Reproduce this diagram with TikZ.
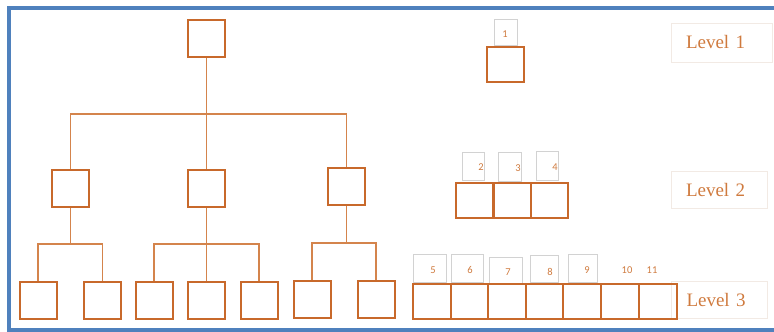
\documentclass[tikz,border=0pt]{standalone}
\usepackage{fontspec}
\setmainfont{Liberation Serif}
\newfontfamily\numfont{Carlito}
\definecolor{frameblue}{HTML}{4F81BD}
\definecolor{boxor}{HTML}{C8692B}
\definecolor{lineor}{HTML}{D4844C}
\definecolor{txtor}{HTML}{CF7A3E}
\definecolor{lblgray}{HTML}{D2D2D2}
\definecolor{lvlframe}{HTML}{F2EAE4}
\begin{document}
\begin{tikzpicture}[x=1pt,y=-1pt,
  sq/.style={draw=boxor,line width=2pt,minimum width=37pt,minimum height=37pt,inner sep=0pt,fill=white},
  rowsq/.style={draw=boxor,line width=2pt,minimum width=37.6pt,minimum height=35pt,inner sep=0pt},
  conn/.style={draw=lineor,line width=1.5pt},
  numbox/.style={draw=lblgray,line width=0.7pt,inner sep=0pt,minimum width=#1,minimum height=27pt},
  numtxt/.style={text=txtor,font=\numfont\fontsize{10.5}{12}\selectfont,inner sep=0pt},
  lvlbox/.style={draw=lvlframe,line width=1pt,inner xsep=15pt,inner ysep=0pt,text width=66pt,align=left,minimum height=37pt,text=txtor,font=\fontsize{19}{20}\selectfont}
]
\useasboundingbox (0,0) rectangle (774,332);
% frame
\draw[frameblue,line width=4pt] (9,332) -- (9,8) -- (774,8);
\draw[frameblue,line width=4pt] (7,330) -- (774,330);

% tree
\node[sq] (t0) at (206.5,38) {};
\node[sq] (a) at (70.5,188) {};
\node[sq] (b) at (206.5,188) {};
\node[sq] (c) at (346.5,186) {};
\coordinate (bus1) at (0,114);
\draw[conn] (t0.south) -- (b.north);
\draw[conn] (a.north) |- (bus1 -| c.north) -- (c.north);

\node[sq] (a1) at (38,300.5) {};
\node[sq] (a2) at (102.5,300.5) {};
\node[sq] (b1) at (154,300.5) {};
\node[sq] (b2) at (206.5,300.5) {};
\node[sq] (b3) at (259,300.5) {};
\node[sq] (c1) at (312,299) {};
\node[sq] (c2) at (376,299) {};
\coordinate (bus2) at (0,244);
\coordinate (bus3) at (0,243);
\draw[conn] (a.south) -- (a.south |- bus2);
\draw[conn] (a1.north) |- (bus2 -| a2.north) -- (a2.north);
\draw[conn] (b.south) -- (b2.north);
\draw[conn] (b1.north) |- (bus2 -| b3.north) -- (b3.north);
\draw[conn] (c.south) -- (c.south |- bus3);
\draw[conn] (c1.north) |- (bus3 -| c2.north) -- (c2.north);

% level labels
\node[lvlbox,text width=71pt,minimum height=39pt] (lv1) at (721.5,42.5) {Level 1};
\node[lvlbox] (lv2) at (719,189.5) {Level 2};
\node[lvlbox] (lv3) at (719.5,300) {Level 3};

% level 1 array
\node[numbox=23pt,minimum height=26pt] (n1) at (505.5,32) {};
\node[numtxt] at (505,34) {1};
\node[sq,minimum height=35pt] (r1) at (505,64.5) {};

% level 2 array
\node[numbox=22pt,minimum height=28pt] (n2) at (473,166) {};
\node[numbox=23pt,minimum height=29pt] (n3) at (509.5,166.5) {};
\node[numbox=22pt,minimum height=29pt] (n4) at (547,165.5) {};
\node[numtxt] at (481,167) {2};
\node[numtxt] at (518,168) {3};
\node[numtxt] at (555,167) {4};
\node[rowsq] (s2) at (474.7,200.5) {};
\node[rowsq] (s3) at (512.2,200.5) {};
\node[rowsq] (s4) at (549.6,200.5) {};

% level 3 array
\node[numbox=33pt,minimum height=28pt] (n5) at (429.5,268) {};
\node[numbox=32pt,minimum height=28pt] (n6) at (467,268) {};
\node[numbox=33pt,minimum height=26pt] (n7) at (505.5,270) {};
\node[numbox=28pt,minimum height=27pt] (n8) at (544,268.5) {};
\node[numbox=29pt,minimum height=28pt] (n9) at (582.5,268) {};
\node[numtxt] at (433,270) {5};
\node[numtxt] at (470,270) {6};
\node[numtxt] at (508,272) {7};
\node[numtxt] at (550,272) {8};
\node[numtxt] at (587,270) {9};
\node[numtxt] at (627,270) {10};
\node[numtxt] at (652,270) {11};
\node[rowsq] (s5) at (431.8,301) {};
\node[rowsq] (s6) at (469.4,301) {};
\node[rowsq] (s7) at (507,301) {};
\node[rowsq] (s8) at (544.6,301) {};
\node[rowsq] (s9) at (582.2,301) {};
\node[rowsq] (s10) at (619.8,301) {};
\node[rowsq] (s11) at (657.8,301) {};
\end{tikzpicture}
\end{document}
